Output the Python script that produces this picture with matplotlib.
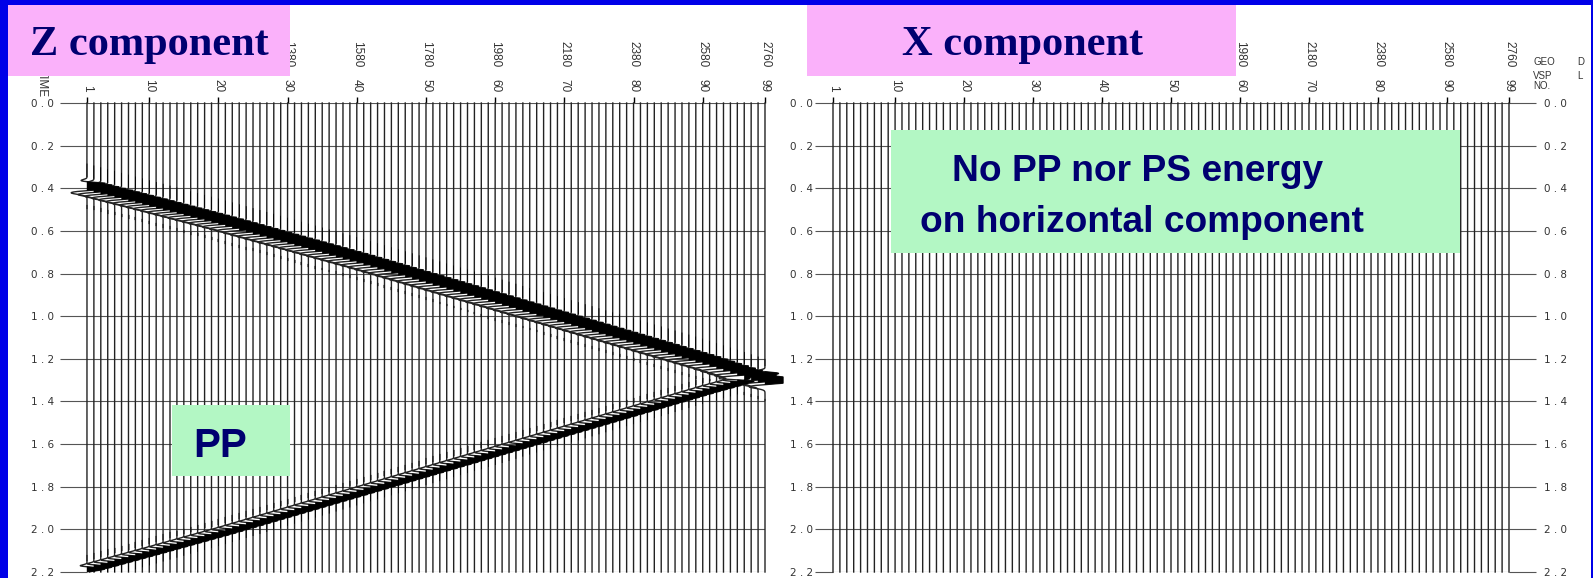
import numpy as np
import matplotlib
matplotlib.use("Agg")
import matplotlib.pyplot as plt
from matplotlib.patches import Rectangle

W, H = 1593, 578

# geophone levels and the labelled ones
trace_no = np.arange(1, 100)
top_traces = [1, 10, 20, 30, 40, 50, 60, 70, 80, 90, 99]
top_depths = ["800", "980", "1180", "1380", "1580", "1780", "1980", "2180", "2380", "2580", "2760"]

time_ticks = [0.0, 0.2, 0.4, 0.6, 0.8, 1.0, 1.2, 1.4, 1.6, 1.8, 2.0, 2.2]
time_labels = ["0 . 0", "0 . 2", "0 . 4", "0 . 6", "0 . 8", "1 . 0",
               "1 . 2", "1 . 4", "1 . 6", "1 . 8", "2 . 0", "2 . 2"]

# picked arrival times (s) on the Z component at the labelled levels
direct_times = [0.39, 0.465, 0.55, 0.64, 0.73, 0.825, 0.92, 1.015, 1.11, 1.205, 1.30]
refl_times = [2.185, 2.105, 2.015, 1.92, 1.825, 1.73, 1.635, 1.54, 1.445, 1.35, 1.27]
direct_amp = 6.0
refl_amp = 2.6
clip = 2.6

navy = "#000070"
blue = "#0000E8"
pink = "#FAB1FA"
green = "#B3F7C4"
ink = "#333333"


def fx(px):
    return px / W


def fy(py):
    return 1 - py / H


def g(tau, s):
    return np.exp(-0.5 * (tau / s) ** 2)


def direct_wavelet(tau):
    # small precursor, broad peak, trailing trough
    return -0.25 * g(tau + 0.024, 0.006) + g(tau, 0.012) - 0.42 * g(tau - 0.03, 0.008)


def refl_wavelet(tau):
    return -0.55 * g(tau + 0.013, 0.005) + g(tau, 0.0075)


def setup_panel(ax, hidden):
    ax.set_xlim(1, 99)
    ax.set_ylim(2.2, 0)
    for s in ax.spines.values():
        s.set_visible(False)
    ax.xaxis.tick_top()
    ax.set_xticks(top_traces)
    ax.set_xticklabels([str(t) for t in top_traces])
    ax.tick_params(axis="x", top=True, bottom=False, length=4.3, width=1.0,
                   color="black", pad=3.6, labelsize=8.5, labelrotation=270,
                   labelcolor=ink)
    for lab in ax.get_xticklabels():
        lab.set_family("Liberation Sans")
    # depth row; the ones under the title box are not drawn
    for tr, d in zip(top_traces, top_depths):
        if tr in hidden:
            continue
        ax.annotate(d, xy=(tr, 1), xycoords=("data", "axes fraction"),
                    xytext=(0, 25.9), textcoords="offset points", rotation=270,
                    ha="center", va="bottom", fontsize=8.5, color=ink,
                    family="Liberation Sans", annotation_clip=False)
    ax.set_yticks(time_ticks)
    ax.set_yticklabels(time_labels)
    ax.grid(axis="y", color="#555555", lw=0.8)
    ax.grid(axis="x", visible=False)


def draw_traces(ax, with_waves):
    t = np.arange(0, 2.2001, 0.0005)
    for i in trace_no:
        x = np.full_like(t, float(i))
        if with_waves:
            td = np.interp(i, top_traces, direct_times)
            tr = np.interp(i, top_traces, refl_times)
            wig = direct_amp * direct_wavelet(t - td) + refl_amp * refl_wavelet(t - tr)
            x = x + np.clip(wig, -clip, clip)
            ax.fill_betweenx(t, i, x, where=x > i, facecolor="black",
                             edgecolor="black", lw=0.3, interpolate=True,
                             clip_on=False, zorder=3)
        ax.plot(x, t, color="#222222", lw=1.0, snap=False, clip_on=False,
                zorder=2)


fig = plt.figure(figsize=(W / 100, H / 100), dpi=100)
fig.patch.set_facecolor("white")

# Z component panel
axz = fig.add_axes([fx(87), fy(572), fx(765) - fx(87), fy(103) - fy(572)])
setup_panel(axz, [1, 10, 20])
axz.tick_params(axis="y", length=19.4, width=0.8, color="#555555", pad=4.5,
                labelsize=7.5, labelcolor=ink)
draw_traces(axz, True)

# X component panel
axx = fig.add_axes([fx(833), fy(572), fx(1509) - fx(833), fy(103) - fy(572)])
setup_panel(axx, [1, 10, 20, 30, 40, 50])
axx.tick_params(axis="y", length=13, width=0.8, color="#555555", pad=1.4,
                labelsize=7.5, labelcolor=ink)
sec = axx.secondary_yaxis("right")
sec.set_yticks(time_ticks)
sec.set_yticklabels(time_labels)
sec.tick_params(axis="y", length=19.4, width=0.8, color="#555555", pad=5.5,
                labelsize=7.5, labelcolor=ink)
for s in sec.spines.values():
    s.set_visible(False)
draw_traces(axx, False)

# header texts of the plotter
fig.text(fx(42), fy(69), "TIME", rotation=270, ha="center", va="top",
         fontsize=8.5, color=ink, family="Liberation Sans")
fig.text(fx(1533), fy(62), "GEO", ha="left", va="center", fontsize=7,
         color=ink, family="Liberation Sans")
fig.text(fx(1577), fy(62), "D", ha="left", va="center", fontsize=7,
         color=ink, family="Liberation Sans")
fig.text(fx(1533), fy(76), "VSP", ha="left", va="center", fontsize=7,
         color=ink, family="Liberation Sans")
fig.text(fx(1577), fy(76), "L", ha="left", va="center", fontsize=7,
         color=ink, family="Liberation Sans")
fig.text(fx(1533), fy(86), "NO.", ha="left", va="center", fontsize=7,
         color=ink, family="Liberation Sans")


# slide decorations
def box(x0, y0, x1, y1, color):
    fig.add_artist(Rectangle((fx(x0), fy(y1)), fx(x1) - fx(x0), fy(y0) - fy(y1),
                             transform=fig.transFigure, facecolor=color,
                             edgecolor="none", zorder=5))


box(8, 5, 290, 76, pink)
box(807, 5, 1236, 76, pink)
box(891, 130, 1460, 253, green)
box(172, 405, 290, 476, green)

fig.text(fx(149), fy(55), "Z component", ha="center", va="baseline",
         fontsize=30.5, fontweight="bold", family="Liberation Serif",
         color=navy, zorder=12)
fig.text(fx(1022), fy(55), "X component", ha="center", va="baseline",
         fontsize=30.5, fontweight="bold", family="Liberation Serif",
         color=navy, zorder=12)
fig.text(fx(1138), fy(181), "No PP nor PS energy", ha="center", va="baseline",
         fontsize=26.7, fontweight="bold", family="Liberation Sans",
         color=navy, zorder=12)
fig.text(fx(1142), fy(232), "on horizontal component", ha="center",
         va="baseline", fontsize=26.7, fontweight="bold",
         family="Liberation Sans", color=navy, zorder=12)
fig.text(fx(220), fy(457), "PP", ha="center", va="baseline", fontsize=29,
         fontweight="bold", family="Liberation Sans", color=navy, zorder=12)

# blue frame
box(0, 0, 8, H, blue)
box(0, 0, W, 5, blue)
box(1591, 0, W, H, blue)

fig.savefig("out.png", dpi=100)
